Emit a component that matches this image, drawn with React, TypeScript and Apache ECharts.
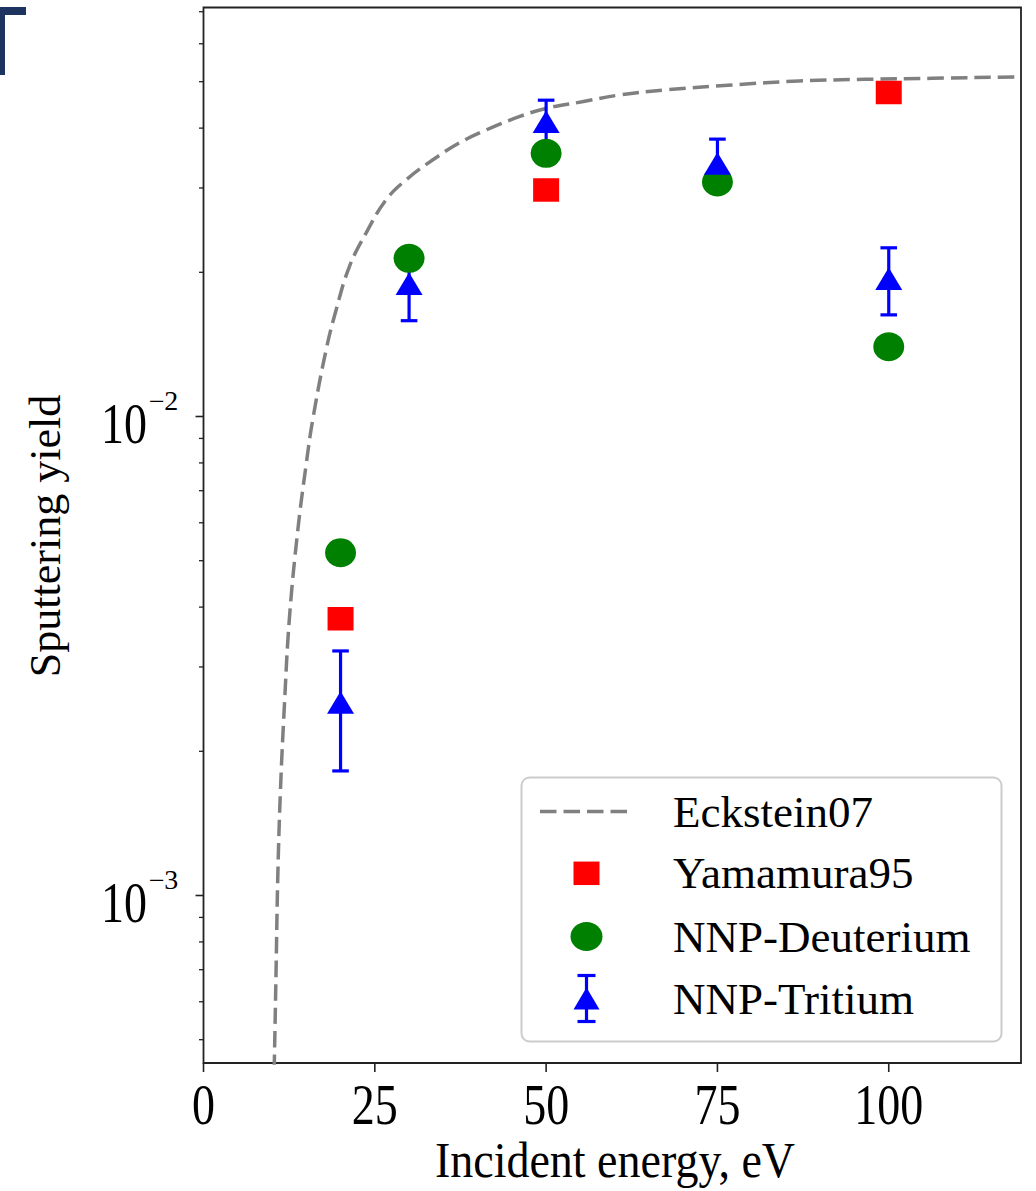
import React, { useEffect, useRef } from 'react';
import * as echarts from 'echarts';

const FONT = '"Liberation Serif", "Times New Roman", serif';

// Axis ranges
const X_MIN = 0;
const X_MAX = 119.3;
const Y_MIN = 4.47e-4;
const Y_MAX = 0.07143;

// Tick values / labels
const xTickValues = [0, 25, 50, 75, 100];
const xTickLabels = ['0', '25', '50', '75', '100'];
const yMajorTicks = [1e-3, 1e-2];
const yMajorExponents = ['\u22123', '\u22122'];
const yMinorTicks = [
  5e-4, 6e-4, 7e-4, 8e-4, 9e-4,
  2e-3, 3e-3, 4e-3, 5e-3, 6e-3, 7e-3, 8e-3, 9e-3,
  2e-2, 3e-2, 4e-2, 5e-2, 6e-2, 7e-2,
];

// Eckstein07 curve
const eckEnergy = [10.3, 10.35, 10.6, 10.83, 11.22, 11.81, 12.54, 13.75, 14.97, 15.93, 17.89, 19.34, 21.28, 23.72, 26.63, 29.55, 33.43, 37.32, 41.21, 46.06, 49.96, 55.25, 60.64, 67.45, 77.11, 86.88, 96.6, 106.3, 118.5, 119.3];
const eckYield = [0.00043, 0.000458, 0.000709, 0.001077, 0.001644, 0.0025, 0.0038, 0.00577, 0.00792, 0.00983, 0.01377, 0.01667, 0.02054, 0.02415, 0.02832, 0.03118, 0.03431, 0.03724, 0.03963, 0.04226, 0.04397, 0.0454, 0.04689, 0.04806, 0.04922, 0.05016, 0.05058, 0.05082, 0.05117, 0.0512];

// Yamamura95
const yamEnergy = [20, 50, 100];
const yamYield = [0.003782, 0.02971, 0.04747];

// NNP-Deuterium
const deutEnergy = [20, 30, 50, 75, 100];
const deutYield = [0.005197, 0.02139, 0.03543, 0.03087, 0.01398];

// NNP-Tritium
const tritEnergy = [20, 30, 50, 75, 100];
const tritYield = [0.00253, 0.01892, 0.04125, 0.03374, 0.0194];
const tritErr = [0.00071, 0.00307, 0.0045, 0.0042, 0.0031];

const legendNames = ['Eckstein07', 'Yamamura95', 'NNP-Deuterium', 'NNP-Tritium'];

const AXIS_COLOR = '#222';

function textEl(text: string, x: number, y: number, size: number, align: string, vAlign: string, scaleY = 1, rotation = 0) {
  return {
    type: 'text',
    x,
    y,
    scaleY,
    rotation,
    silent: true,
    style: {
      text,
      fontSize: size,
      fontFamily: FONT,
      font: `${size}px ${FONT}`,
      fill: '#000',
      align,
      verticalAlign: vAlign,
      textAlign: align,
      textVerticalAlign: vAlign,
    },
  };
}

export default function App() {
  const ref = useRef<HTMLDivElement>(null);

  useEffect(() => {
    if (!ref.current) return;
    const chart = echarts.init(ref.current, null, { renderer: 'svg' });

    const legendX = 586.5;
    const legendRows = [811.5, 873.3, 936.5, 998.5];

    const option: any = {
      animation: false,
      backgroundColor: '#ffffff',
      grid: {
        left: 203.5,
        top: 7.5,
        width: 817.5,
        height: 1055.5,
        show: true,
        borderColor: AXIS_COLOR,
        borderWidth: 1.8,
        backgroundColor: 'transparent',
      },
      xAxis: {
        type: 'value',
        min: X_MIN,
        max: X_MAX,
        axisLine: { show: false },
        axisTick: { show: false },
        axisLabel: { show: false },
        splitLine: { show: false },
      },
      yAxis: {
        type: 'log',
        logBase: 10,
        min: Y_MIN,
        max: Y_MAX,
        axisLine: { show: false },
        axisTick: { show: false },
        axisLabel: { show: false },
        splitLine: { show: false },
      },
      series: [
        {
          type: 'line',
          name: 'Eckstein07',
          data: eckEnergy.map((e, i) => [e, eckYield[i]]),
          symbol: 'none',
          showSymbol: false,
          smooth: 0.4,
          z: 1,
          lineStyle: { color: '#808080', width: 3.5, type: [16.5, 7], cap: 'butt', opacity: 1 },
          silent: true,
        },
        {
          type: 'custom',
          name: 'TritiumErr',
          clip: false,
          silent: true,
          z: 2,
          data: tritEnergy.map((e, i) => [e, tritYield[i], tritErr[i]]),
          encode: { x: 0, y: 1 },
          renderItem: (params: any, api: any) => {
            const x = api.value(0);
            const y = api.value(1);
            const e = api.value(2);
            const top = api.coord([x, y + e]);
            const bot = api.coord([x, y - e]);
            const half = 8.3;
            const style = { stroke: '#0000ff', lineWidth: 3.2, fill: null };
            return {
              type: 'group',
              children: [
                { type: 'line', shape: { x1: top[0], y1: top[1], x2: bot[0], y2: bot[1] }, style },
                { type: 'line', shape: { x1: top[0] - half, y1: top[1], x2: top[0] + half, y2: top[1] }, style },
                { type: 'line', shape: { x1: bot[0] - half, y1: bot[1], x2: bot[0] + half, y2: bot[1] }, style },
              ],
            };
          },
        },
        {
          type: 'scatter',
          name: 'Yamamura95',
          data: yamEnergy.map((e, i) => [e, yamYield[i]]),
          symbol: 'rect',
          symbolSize: [26, 23.5],
          itemStyle: { color: '#ff0000', opacity: 1 },
          z: 3,
          silent: true,
        },
        {
          type: 'scatter',
          name: 'NNP-Deuterium',
          data: deutEnergy.map((e, i) => [e, deutYield[i]]),
          symbol: 'circle',
          symbolSize: [31, 29],
          itemStyle: { color: '#008000', opacity: 1 },
          z: 4,
          silent: true,
        },
        {
          type: 'scatter',
          name: 'NNP-Tritium',
          data: tritEnergy.map((e, i) => [e, tritYield[i]]),
          symbol: 'triangle',
          symbolSize: [27, 22.5],
          itemStyle: { color: '#0000ff', opacity: 1 },
          z: 5,
          silent: true,
        },
        // x ticks + labels
        {
          type: 'custom',
          name: 'xTicks',
          clip: false,
          silent: true,
          z: 6,
          data: xTickValues.map((v) => [v, Y_MIN]),
          encode: { x: 0, y: 1 },
          renderItem: (params: any, api: any) => {
            const p = api.coord([api.value(0), api.value(1)]);
            return {
              type: 'group',
              children: [
                { type: 'line', shape: { x1: p[0], y1: p[1], x2: p[0], y2: p[1] + 9 }, style: { stroke: AXIS_COLOR, lineWidth: 1.6 } },
                textEl(xTickLabels[params.dataIndex], p[0], p[1] + 42, 46, 'center', 'middle', 1.25),
              ],
            };
          },
        },
        // y minor ticks
        {
          type: 'custom',
          name: 'yMinorTicks',
          clip: false,
          silent: true,
          z: 6,
          data: yMinorTicks.map((v) => [X_MIN, v]),
          encode: { x: 0, y: 1 },
          renderItem: (params: any, api: any) => {
            const p = api.coord([api.value(0), api.value(1)]);
            return { type: 'line', shape: { x1: p[0] - 4.5, y1: p[1], x2: p[0], y2: p[1] }, style: { stroke: AXIS_COLOR, lineWidth: 1.3 } };
          },
        },
        // y major ticks + labels
        {
          type: 'custom',
          name: 'yMajorTicks',
          clip: false,
          silent: true,
          z: 6,
          data: yMajorTicks.map((v) => [X_MIN, v]),
          encode: { x: 0, y: 1 },
          renderItem: (params: any, api: any) => {
            const p = api.coord([api.value(0), api.value(1)]);
            return {
              type: 'group',
              children: [
                { type: 'line', shape: { x1: p[0] - 8, y1: p[1], x2: p[0], y2: p[1] }, style: { stroke: AXIS_COLOR, lineWidth: 1.6 } },
                textEl('10', p[0] - 56.5, p[1] + 7, 46, 'right', 'middle', 1.25),
                textEl(yMajorExponents[params.dataIndex], p[0] - 55, p[1] - 15, 28, 'left', 'middle', 0.95),
              ],
            };
          },
        },
      ],
      graphic: {
        elements: [
          // top-left corner artifact
          { type: 'rect', shape: { x: 0, y: 7, width: 26, height: 8 }, style: { fill: '#1d3461' }, silent: true },
          { type: 'rect', shape: { x: 0, y: 7, width: 5, height: 68 }, style: { fill: '#1d3461' }, silent: true },
          // axis titles
          textEl('Incident energy, eV', 615, 1160, 46, 'center', 'middle', 1.08),
          textEl('Sputtering yield', 45, 536, 44, 'center', 'middle', 1, Math.PI / 2),
          // legend box
          {
            type: 'rect',
            shape: { x: 521.5, y: 777.5, width: 480, height: 264, r: 8 },
            style: { fill: 'rgba(255,255,255,0.85)', stroke: '#cccccc', lineWidth: 2 },
            silent: true,
            z: 10,
          },
          {
            type: 'line',
            shape: { x1: 540, y1: legendRows[0], x2: 634, y2: legendRows[0] },
            style: { stroke: '#808080', lineWidth: 3.5, lineDash: [16.5, 7] },
            silent: true,
            z: 11,
          },
          {
            type: 'rect',
            shape: { x: legendX - 13, y: legendRows[1] - 11.75, width: 26, height: 23.5 },
            style: { fill: '#ff0000' },
            silent: true,
            z: 11,
          },
          {
            type: 'ellipse',
            shape: { cx: legendX, cy: legendRows[2], rx: 16, ry: 14.5 },
            style: { fill: '#008000' },
            silent: true,
            z: 11,
          },
          {
            type: 'line',
            shape: { x1: legendX, y1: legendRows[3] - 23, x2: legendX, y2: legendRows[3] + 23 },
            style: { stroke: '#0000ff', lineWidth: 3.2 },
            silent: true,
            z: 11,
          },
          {
            type: 'line',
            shape: { x1: legendX - 9, y1: legendRows[3] - 23, x2: legendX + 9, y2: legendRows[3] - 23 },
            style: { stroke: '#0000ff', lineWidth: 3.2 },
            silent: true,
            z: 11,
          },
          {
            type: 'line',
            shape: { x1: legendX - 9, y1: legendRows[3] + 23, x2: legendX + 9, y2: legendRows[3] + 23 },
            style: { stroke: '#0000ff', lineWidth: 3.2 },
            silent: true,
            z: 11,
          },
          {
            type: 'polygon',
            shape: { points: [[legendX, legendRows[3] - 11], [legendX + 13, legendRows[3] + 11], [legendX - 13, legendRows[3] + 11]] },
            style: { fill: '#0000ff' },
            silent: true,
            z: 12,
          },
          ...legendNames.map((name, i) => ({ ...textEl(name, 673, legendRows[i], 45, 'left', 'middle', 1), z: 12 })),
        ],
      },
    };

    chart.setOption(option);
    return () => {
      chart.dispose();
    };
  }, []);

  return (
    <div
      ref={ref}
      style={{ position: 'absolute', left: 0, top: 0, width: 1036, height: 1191, background: '#fff' }}
    />
  );
}
